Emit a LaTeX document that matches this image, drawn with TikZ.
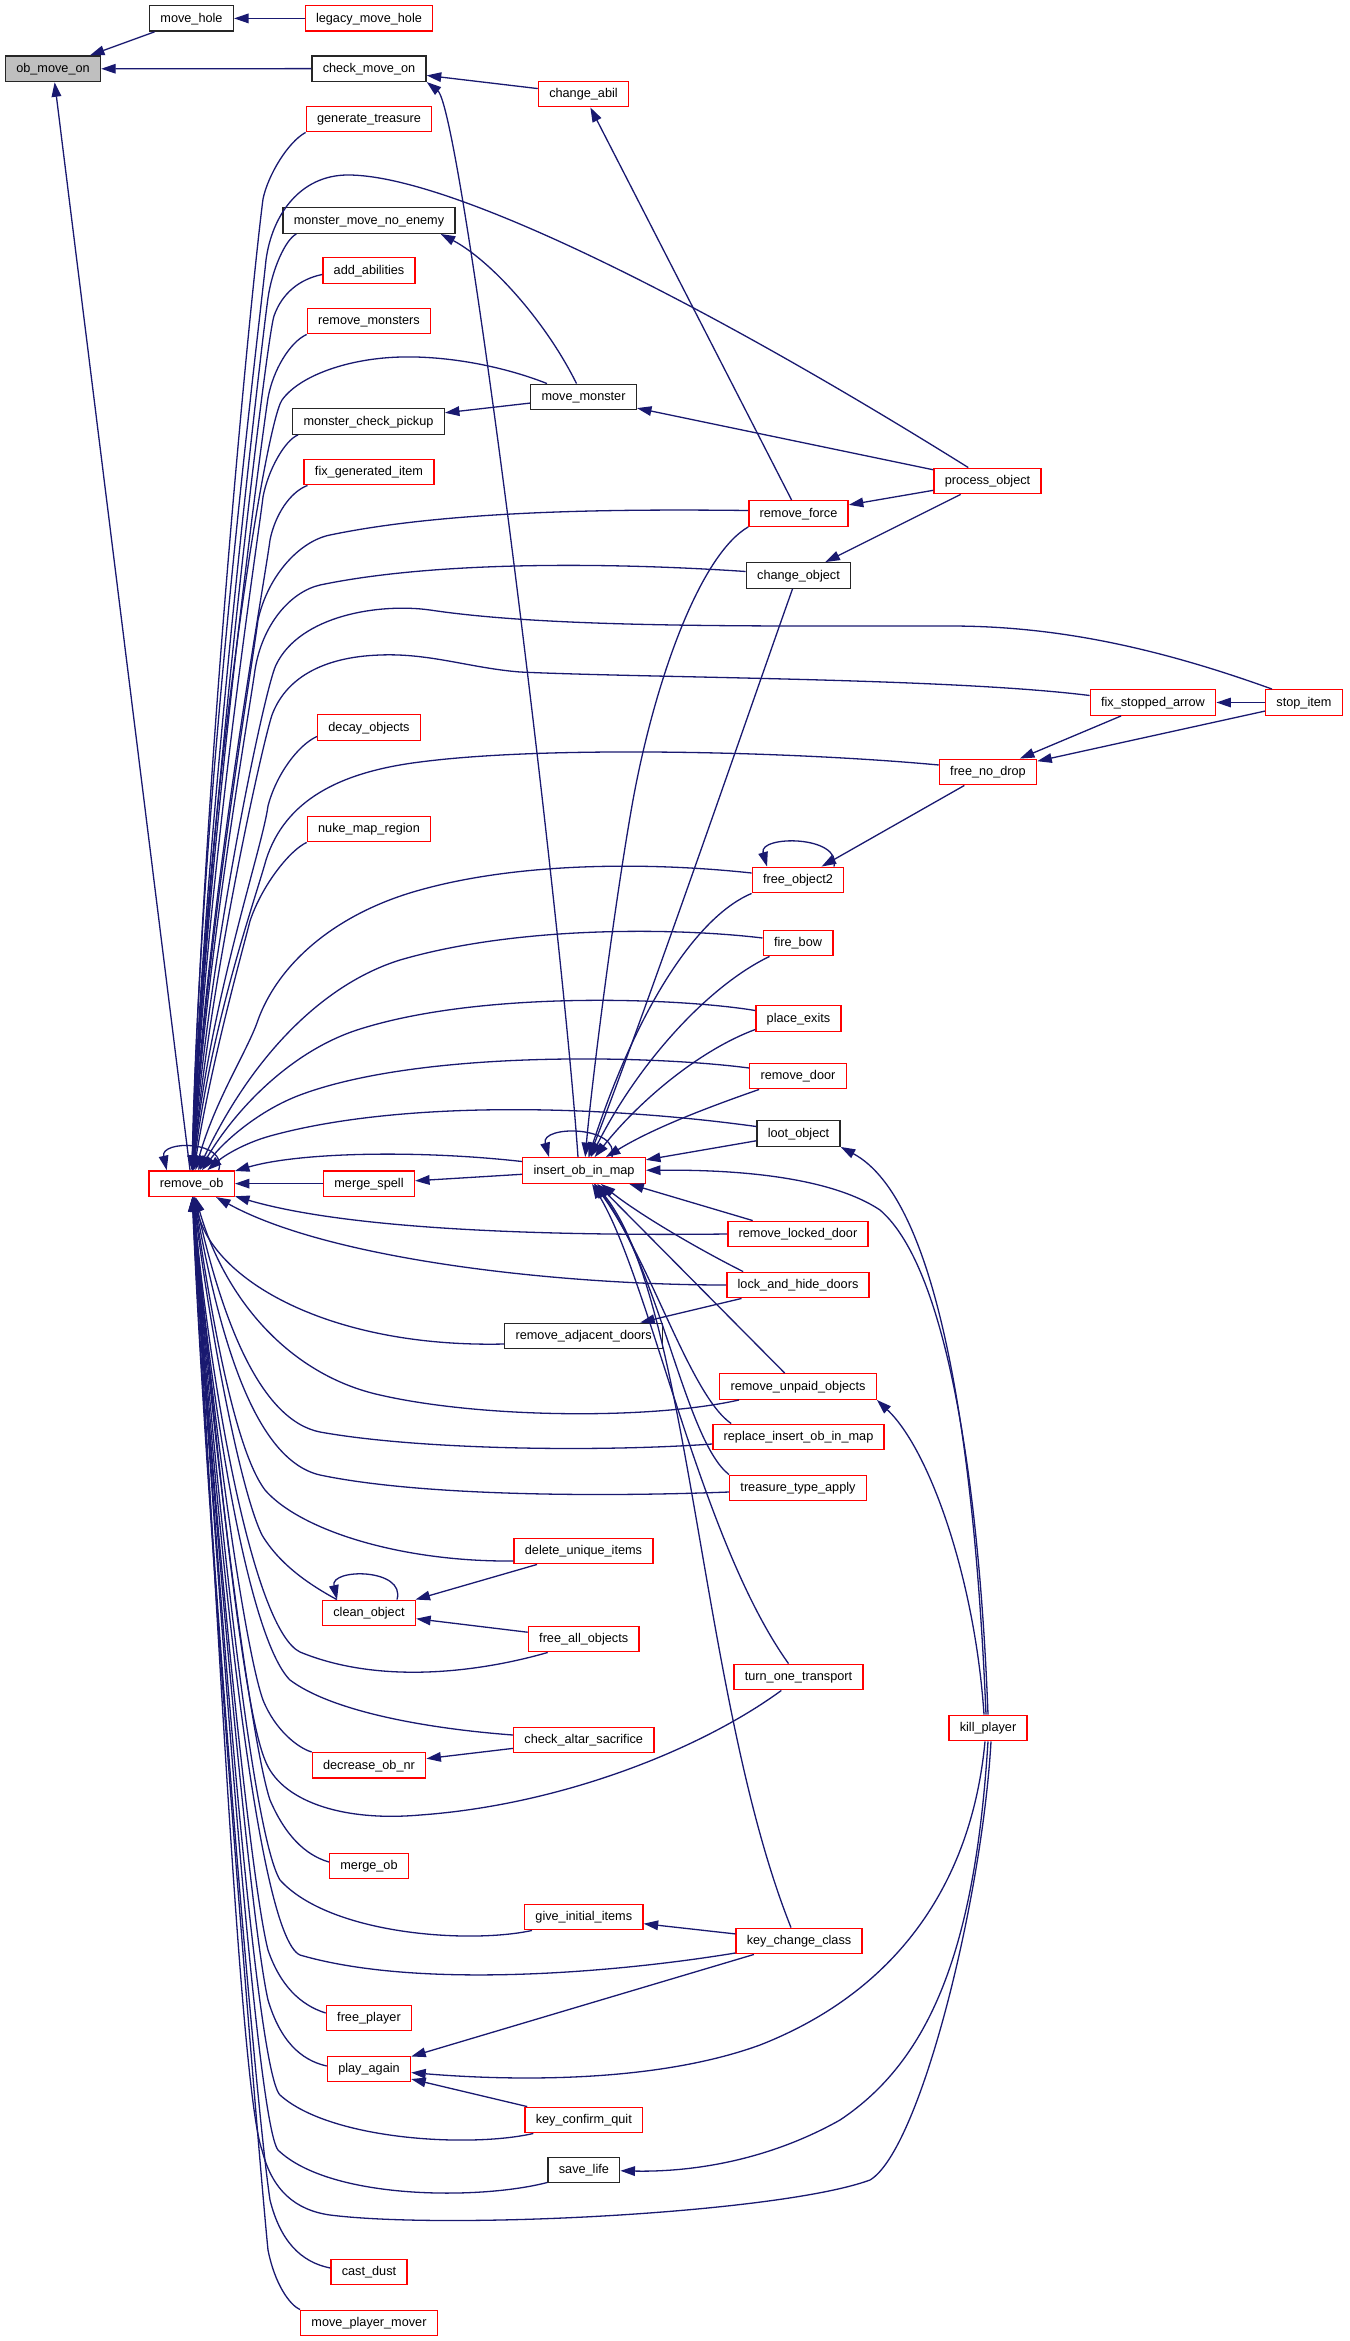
\documentclass[tikz,border=0pt]{standalone}
\usepackage{fontspec}
\setmainfont{Liberation Sans}
\usetikzlibrary{arrows.meta,calc}
\definecolor{edgecol}{HTML}{191970}
\definecolor{nodered}{HTML}{FF0000}
\definecolor{grayfill}{HTML}{BFBFBF}
\begin{document}
\begin{tikzpicture}[x=1pt,y=-1pt,
  font=\fontsize{12.7pt}{15pt}\selectfont,
  fn/.style={draw, rectangle, line width=1.4pt, fill=white, minimum height=25.5pt,
    inner xsep=10.8pt, inner ysep=0pt, text height=9.5pt, text depth=2pt},
  rn/.style={fn, draw=nodered},
  bn/.style={fn, draw=black!85},
  gn/.style={fn, draw=black!85, fill=grayfill},
  edge/.style={draw=edgecol, line width=1.3pt, -{Triangle[length=14.5pt,width=9.6pt]}}]
\fill[white] (0,0) rectangle (1349,2341);
\useasboundingbox (0,0) rectangle (1349,2341);

% ---------------- nodes ----------------
\node[gn] (omo) at (53,68.8) {ob\_move\_on};
\node[bn] (mh) at (191.5,18.4) {move\_hole};
\node[rn] (lmh) at (369,18.4) {legacy\_move\_hole};
\node[bn] (cmo) at (369,68.6) {check\_move\_on};
\node[rn] (ca) at (583.5,94) {change\_abil};
\node[rn] (gt) at (369,119) {generate\_treasure};
\node[bn] (mmne) at (369,220.5) {monster\_move\_no\_enemy};
\node[rn] (aa) at (369,270.5) {add\_abilities};
\node[rn] (rm) at (369,321) {remove\_monsters};
\node[bn] (mm) at (583.5,397) {move\_monster};
\node[bn] (mcp) at (368.5,421.5) {monster\_check\_pickup};
\node[rn] (fgi) at (369,472) {fix\_generated\_item};
\node[rn] (po) at (987.5,481) {process\_object};
\node[rn] (rf) at (798.5,513.5) {remove\_force};
\node[bn] (co) at (798.5,575.5) {change\_object};
\node[rn] (fsa) at (1153,702.5) {fix\_stopped\_arrow};
\node[rn] (si) at (1304,702.5) {stop\_item};
\node[rn] (dob) at (369,727.5) {decay\_objects};
\node[rn] (fnd) at (988,772) {free\_no\_drop};
\node[rn] (nmr) at (369,829) {nuke\_map\_region};
\node[rn] (fo) at (798,880) {free\_object2};
\node[rn] (fb) at (798,943) {fire\_bow};
\node[rn] (pe) at (798.5,1018.5) {place\_exits};
\node[rn] (rd) at (798,1076) {remove\_door};
\node[bn] (lo) at (798.5,1133.5) {loot\_object};
\node[rn] (iom) at (584,1170.5) {insert\_ob\_in\_map};
\node[rn] (rob) at (191.7,1183.6) {remove\_ob};
\node[rn] (ms) at (369,1183.6) {merge\_spell};
\node[rn] (rld) at (798,1234) {remove\_locked\_door};
\node[rn] (lhd) at (798,1285) {lock\_and\_hide\_doors};
\node[bn] (rad) at (583.7,1336) {remove\_adjacent\_doors};
\node[rn] (ruo) at (798,1386.5) {remove\_unpaid\_objects};
\node[rn] (rio) at (798.5,1437) {replace\_insert\_ob\_in\_map};
\node[rn] (tta) at (798,1488) {treasure\_type\_apply};
\node[rn] (dui) at (583.5,1551) {delete\_unique\_items};
\node[rn] (clo) at (369,1613) {clean\_object};
\node[rn] (fao) at (583.7,1639) {free\_all\_objects};
\node[rn] (tot) at (798.5,1677) {turn\_one\_transport};
\node[rn] (kp) at (988,1728) {kill\_player};
\node[rn] (cas) at (583.7,1740) {check\_altar\_sacrifice};
\node[rn] (don) at (369,1765.4) {decrease\_ob\_nr};
\node[rn] (mob) at (369,1866) {merge\_ob};
\node[rn] (gii) at (583.8,1917) {give\_initial\_items};
\node[rn] (kcc) at (799,1941) {key\_change\_class};
\node[rn] (fp) at (369,2018) {free\_player};
\node[rn] (pa) at (369,2069) {play\_again};
\node[rn] (kcq) at (583.8,2120) {key\_confirm\_quit};
\node[bn] (sl) at (583.9,2170) {save\_life};
\node[rn] (cd) at (369,2272) {cast\_dust};
\node[rn] (mpm) at (369,2323) {move\_player\_mover};

% ---------------- straight edges ----------------
\draw[edge] (mh) -- (omo);
\draw[edge] (lmh) -- (mh);
\draw[edge] (cmo) -- (omo);
\draw[edge] (ca) -- (cmo);
\draw[edge] (rob) -- (omo);
\draw[edge] (mm) -- (mcp);
\draw[edge] (po) -- (mm);
\draw[edge] (po) -- (rf);
\draw[edge] (po) -- (co);
\draw[edge] (rf) -- (ca);
\draw[edge] (si) -- (fsa);
\draw[edge] (fsa) -- (fnd);
\draw[edge] (si) -- (fnd);
\draw[edge] (fnd) -- (fo);
\draw[edge] (iom) -- (ms);
\draw[edge] (ms) -- (rob);
\draw[edge] (lo) -- (iom);
\draw[edge] (rld) -- (iom);
\draw[edge] (ruo) -- (iom);
\draw[edge] (lhd) -- (rad);
\draw[edge] (dui) -- (clo);
\draw[edge] (fao) -- (clo);
\draw[edge] (cas) -- (don);
\draw[edge] (kcc) -- (gii);
\draw[edge] (kcc) -- (pa);
\draw[edge] (kcq) -- (pa);

% ---------------- curved edges (misc) ----------------
\draw[edge] ($(iom.north)+(-6,0)$) .. controls (560,900) and (462,110) .. (cmo.south east);
\draw[edge] ($(mm.north)+(-7,0)$) .. controls (545,320) and (490,260) .. ($(mmne.south east)+(-15,0)$);

% self loops
\draw[edge] ($(rob.north)+(27,0)$) .. controls (228,1140) and (160,1140) .. ($(rob.north)+(-25,0)$);
\draw[edge] ($(clo.north)+(28,0)$) .. controls (406,1568) and (330,1568) .. ($(clo.north)+(-32,0)$);
\draw[edge] ($(iom.north)+(28,0)$) .. controls (620,1125) and (540,1125) .. ($(iom.north)+(-35,0)$);
\draw[edge] ($(fo.north)+(36,0)$) .. controls (842,835) and (758,835) .. ($(fo.north)+(-31,0)$);

% ---------------- callers of insert_ob_in_map ----------------
\draw[edge] (rf.south west) .. controls (700,555) and (655,680) .. (633,800) .. controls (615,900) and (592,1080) .. (iom);
\draw[edge] ($(co.south)+(-6,0)$) .. controls (760,680) and (650,1000) .. (iom);
\draw[edge] (fo.south west) .. controls (700,915) and (640,1000) .. (iom);
\draw[edge] ($(fb.south west)+(7,0)$) .. controls (710,985) and (640,1060) .. (iom);
\draw[edge] ($(pe.west)+(0,11)$) .. controls (700,1050) and (640,1100) .. (iom);
\draw[edge] ($(rd.south west)+(10,0)$) .. controls (700,1110) and (650,1130) .. (iom);
\draw[edge] ($(lhd.north west)+(17,0)$) .. controls (700,1250) and (640,1215) .. (iom);
\draw[edge] ($(rio.north west)+(19,0)$) .. controls (690,1395) and (650,1260) .. (iom);
\draw[edge] (tta.north west) .. controls (685,1440) and (660,1270) .. (iom);
\draw[edge] ($(tot.north)+(-10,0)$) .. controls (700,1540) and (650,1280) .. (iom);
\draw[edge] ($(kcc.north)+(-8,0)$) .. controls (700,1700) and (690,1300) .. (iom);

% ---------------- kill_player ----------------
\draw[edge] (kp.north) .. controls (980,1500) and (950,1270) .. (880,1210) .. controls (820,1170) and (700,1170) .. (iom);
\draw[edge] ($(kp.north)+(-2,0)$) .. controls (975,1450) and (940,1200) .. (lo.south east);
\draw[edge] ($(kp.north)+(-4,0)$) .. controls (975,1580) and (930,1450) .. (ruo.south east);
\draw[edge] ($(kp.south)+(-3,0)$) .. controls (972,1880) and (900,1990) .. (760,2045) .. controls (650,2085) and (500,2080) .. (pa);
\draw[edge] (kp.south) .. controls (975,1950) and (930,2060) .. (840,2120) .. controls (760,2165) and (680,2172) .. (sl);
\draw[edge] ($(kp.south)+(3,0)$) .. controls (982,1900) and (920,2150) .. (870,2180) .. controls (780,2213) and (450,2230) .. (330,2215) .. controls (295,2210) and (272,2190) .. (262,2150) .. controls (240,2090) and (215,1560) .. (rob);

% ---------------- callers of remove_ob (upper fan) ----------------
\draw[edge] (gt.south west) .. controls (288,142) and (268,175) .. (263,199) .. controls (250,300) and (202,800) .. (rob);
\draw[edge] ($(mmne.south west)+(14,0)$) .. controls (285,240) and (272,270) .. (268,298) .. controls (262,340) and (202,850) .. (rob);
\draw[edge] ($(aa.west)+(0,4)$) .. controls (300,279) and (282,293) .. (274,316) .. controls (266,340) and (205,850) .. (rob);
\draw[edge] (rm.south west) .. controls (290,342) and (273,370) .. (268,398) .. controls (263,430) and (206,850) .. (rob);
\draw[edge] ($(mcp.south west)+(6,0)$) .. controls (285,440) and (268,470) .. (263,497) .. controls (258,540) and (206,880) .. (rob);
\draw[edge] ($(fgi.south west)+(4,0)$) .. controls (290,492) and (275,515) .. (270,540) .. controls (265,580) and (207,900) .. (rob);
\draw[edge] ($(dob.west)+(0,9)$) .. controls (298,745) and (276,775) .. (268,806) .. controls (262,850) and (210,1000) .. (rob);
\draw[edge] (nmr.south west) .. controls (290,850) and (262,885) .. (250,921) .. controls (240,960) and (212,1060) .. (rob);
\draw[edge] ($(po.north west)+(35,0)$) .. controls (700,300) and (450,175) .. (348,175) .. controls (300,175) and (272,215) .. (266,260) .. controls (260,320) and (200,800) .. (rob);
\draw[edge] ($(mm.north west)+(17,0)$) .. controls (500,365) and (445,356) .. (402,357) .. controls (350,358) and (300,375) .. (282,400) .. controls (265,425) and (205,800) .. (rob);
\draw[edge] ($(rf.west)+(0,-3)$) .. controls (620,509) and (450,510) .. (330,535) .. controls (300,541) and (268,575) .. (258,620) .. controls (250,680) and (205,950) .. (rob);
\draw[edge] ($(co.west)+(0,-4)$) .. controls (620,563) and (440,560) .. (320,585) .. controls (290,592) and (262,625) .. (255,670) .. controls (248,720) and (206,960) .. (rob);
\draw[edge] ($(si.north west)+(7,0)$) .. controls (1150,645) and (1050,626) .. (950,626) .. controls (750,626) and (550,628) .. (430,610) .. controls (380,603) and (300,615) .. (276,665) .. controls (264,690) and (208,960) .. (rob);
\draw[edge] ($(fsa.west)+(0,-7)$) .. controls (950,678) and (650,678) .. (520,672) .. controls (470,668) and (430,653) .. (380,655) .. controls (320,657) and (285,680) .. (272,715) .. controls (262,745) and (210,980) .. (rob);
\draw[edge] ($(fnd.west)+(0,-7)$) .. controls (800,752) and (550,745) .. (420,762) .. controls (340,772) and (285,800) .. (266,860) .. controls (255,900) and (212,1020) .. (rob);
\draw[edge] ($(fo.west)+(0,-7)$) .. controls (650,862) and (520,862) .. (420,890) .. controls (340,912) and (280,960) .. (258,1020) .. controls (248,1050) and (215,1100) .. (rob);
\draw[edge] ($(fb.west)+(0,-5)$) .. controls (680,928) and (520,925) .. (400,960) .. controls (320,985) and (250,1060) .. (rob);
\draw[edge] ($(pe.west)+(0,-8)$) .. controls (680,998) and (480,990) .. (357,1030) .. controls (290,1052) and (235,1110) .. (rob);
\draw[edge] ($(rd.west)+(0,-8)$) .. controls (650,1055) and (420,1050) .. (300,1095) .. controls (260,1110) and (225,1140) .. (rob);
\draw[edge] ($(lo.west)+(0,-7)$) .. controls (600,1105) and (400,1100) .. (270,1136) .. controls (245,1143) and (225,1155) .. (rob);
\draw[edge] ($(iom.west)+(0,-9)$) .. controls (420,1150) and (300,1152) .. (rob);

% ---------------- callers of remove_ob (lower fan) ----------------
\draw[edge] (rld.west) .. controls (550,1236) and (350,1230) .. (rob);
\draw[edge] (lhd.west) .. controls (560,1285) and (330,1260) .. (rob);
\draw[edge] ($(rad.west)+(0,8)$) .. controls (330,1348) and (212,1280) .. (rob);
\draw[edge] ($(ruo.south west)+(20,0)$) .. controls (650,1420) and (480,1418) .. (380,1395) .. controls (290,1375) and (225,1300) .. (rob);
\draw[edge] ($(rio.west)+(0,7)$) .. controls (600,1452) and (420,1450) .. (320,1432) .. controls (260,1420) and (222,1320) .. (rob);
\draw[edge] ($(tta.west)+(0,4)$) .. controls (600,1497) and (420,1496) .. (320,1475) .. controls (255,1460) and (220,1340) .. (rob);
\draw[edge] ($(dui.west)+(0,10)$) .. controls (400,1562) and (300,1530) .. (265,1490) .. controls (235,1450) and (212,1320) .. (rob);
\draw[edge] ($(clo.north west)+(15,0)$) .. controls (310,1585) and (280,1565) .. (262,1535) .. controls (240,1490) and (210,1330) .. (rob);
\draw[edge] ($(fao.south west)+(20,0)$) .. controls (480,1672) and (380,1685) .. (300,1652) .. controls (255,1630) and (212,1400) .. (rob);
\draw[edge] ($(tot.south west)+(48,0)$) .. controls (700,1750) and (560,1805) .. (420,1815) .. controls (340,1822) and (280,1800) .. (265,1760) .. controls (240,1700) and (212,1400) .. (rob);
\draw[edge] ($(cas.west)+(0,-5)$) .. controls (420,1728) and (330,1710) .. (290,1680) .. controls (250,1640) and (212,1420) .. (rob);
\draw[edge] (don.north west) .. controls (298,1748) and (275,1730) .. (263,1700) .. controls (245,1650) and (212,1420) .. (rob);
\draw[edge] ($(mob.west)+(0,-4)$) .. controls (305,1855) and (285,1835) .. (270,1800) .. controls (250,1740) and (210,1420) .. (rob);
\draw[edge] ($(gii.south west)+(8,0)$) .. controls (470,1944) and (330,1935) .. (280,1880) .. controls (250,1830) and (212,1450) .. (rob);
\draw[edge] ($(kcc.west)+(0,12)$) .. controls (620,1972) and (420,1990) .. (300,1955) .. controls (255,1935) and (214,1500) .. (rob);
\draw[edge] ($(fp.west)+(0,-5)$) .. controls (300,2005) and (280,1985) .. (268,1950) .. controls (250,1880) and (212,1500) .. (rob);
\draw[edge] ($(pa.west)+(0,-3)$) .. controls (300,2060) and (280,2040) .. (268,2000) .. controls (250,1920) and (212,1500) .. (rob);
\draw[edge] ($(kcq.south west)+(9,0)$) .. controls (470,2148) and (330,2140) .. (280,2095) .. controls (255,2070) and (215,1550) .. (rob);
\draw[edge] ($(sl.south west)+(0,-1)$) .. controls (480,2200) and (330,2200) .. (278,2150) .. controls (255,2120) and (215,1550) .. (rob);
\draw[edge] ($(cd.west)+(0,-4)$) .. controls (300,2262) and (280,2240) .. (270,2200) .. controls (255,2100) and (210,1560) .. (rob);
\draw[edge] (mpm.north west) .. controls (290,2305) and (275,2285) .. (268,2250) .. controls (258,2150) and (205,1500) .. (rob);
\end{tikzpicture}
\end{document}
